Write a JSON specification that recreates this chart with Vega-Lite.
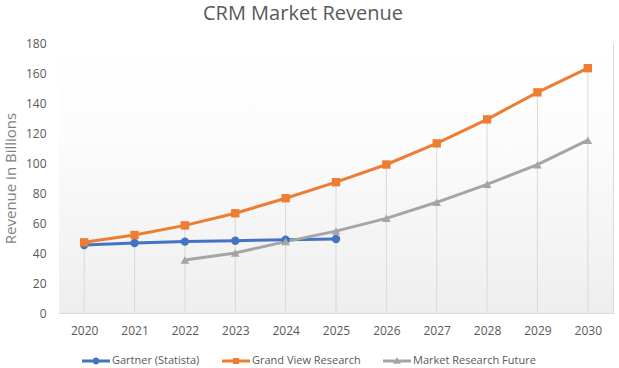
{
  "$schema": "https://vega.github.io/schema/vega-lite/v6.json",
  "width": 554,
  "height": 270,
  "autosize": "none",
  "padding": {"left": 59, "top": 43, "right": 6, "bottom": 55},
  "background": "#ffffff",
  "config": {
    "font": "Open Sans",
    "view": {"stroke": "#d9d9d9", "strokeWidth": 1},
    "axisY": {
      "title": "Revenue in Billions",
      "values": [0, 20, 40, 60, 80, 100, 120, 140, 160, 180],
      "grid": false,
      "ticks": false,
      "domain": false,
      "labelPadding": 13,
      "labelFontSize": 12,
      "labelColor": "#595959",
      "labelFont": "Open Sans",
      "titleFont": "Open Sans",
      "titleFontSize": 15,
      "titleFontWeight": "normal",
      "titleColor": "#7f7f7f",
      "titlePadding": 7
    }
  },
  "title": {
    "text": "CRM Market Revenue",
    "fontSize": 20,
    "fontWeight": "normal",
    "color": "#595959",
    "font": "Open Sans",
    "anchor": "middle",
    "dx": -33,
    "offset": 13
  },
  "datasets": {
    "rev": [
      {"year": "2020", "series": "Gartner (Statista)", "value": 45.3},
      {"year": "2021", "series": "Gartner (Statista)", "value": 46.7},
      {"year": "2022", "series": "Gartner (Statista)", "value": 47.6},
      {"year": "2023", "series": "Gartner (Statista)", "value": 48.2},
      {"year": "2024", "series": "Gartner (Statista)", "value": 48.9},
      {"year": "2025", "series": "Gartner (Statista)", "value": 49.3},
      {"year": "2020", "series": "Grand View Research", "value": 47.1},
      {"year": "2021", "series": "Grand View Research", "value": 52.0},
      {"year": "2022", "series": "Grand View Research", "value": 58.4},
      {"year": "2023", "series": "Grand View Research", "value": 66.5},
      {"year": "2024", "series": "Grand View Research", "value": 76.5},
      {"year": "2025", "series": "Grand View Research", "value": 87.2},
      {"year": "2026", "series": "Grand View Research", "value": 99.0},
      {"year": "2027", "series": "Grand View Research", "value": 113.1},
      {"year": "2028", "series": "Grand View Research", "value": 129.1},
      {"year": "2029", "series": "Grand View Research", "value": 147.1},
      {"year": "2030", "series": "Grand View Research", "value": 163.2},
      {"year": "2022", "series": "Market Research Future", "value": 35.3},
      {"year": "2023", "series": "Market Research Future", "value": 40.0},
      {"year": "2024", "series": "Market Research Future", "value": 47.6},
      {"year": "2025", "series": "Market Research Future", "value": 54.6},
      {"year": "2026", "series": "Market Research Future", "value": 63.1},
      {"year": "2027", "series": "Market Research Future", "value": 73.8},
      {"year": "2028", "series": "Market Research Future", "value": 85.8},
      {"year": "2029", "series": "Market Research Future", "value": 98.9},
      {"year": "2030", "series": "Market Research Future", "value": 115.2}
    ],
    "bg": [{"lo": 0, "hi": 180}]
  },
  "resolve": {"scale": {"y": "shared"}},
  "layer": [
    {
      "data": {"name": "bg"},
      "mark": {
        "type": "rect",
        "fill": {
          "gradient": "linear",
          "x1": 0, "y1": 0, "x2": 0, "y2": 1,
          "stops": [
            {"offset": 0, "color": "#ffffff"},
            {"offset": 0.35, "color": "#fcfcfc"},
            {"offset": 1, "color": "#eeeeee"}
          ]
        }
      },
      "encoding": {
        "y": {"field": "lo", "type": "quantitative", "scale": {"domain": [0, 180]}, "title": "Revenue in Billions"},
        "y2": {"field": "hi"}
      }
    },
    {
      "data": {"name": "rev"},
      "encoding": {
        "x": {
          "field": "year",
          "type": "ordinal",
          "scale": {"type": "point", "padding": 0.5},
          "axis": {
            "title": null,
            "labelAngle": 0,
            "ticks": false,
            "domain": true,
            "domainColor": "#d9d9d9",
            "labelPadding": 12,
            "labelFontSize": 12,
            "labelColor": "#595959",
            "labelFont": "Open Sans",
            "grid": false
          }
        },
        "y": {
          "field": "value",
          "type": "quantitative",
          "scale": {"domain": [0, 180]},
          "title": "Revenue in Billions"
        }
      },
      "layer": [
        {
          "mark": {"type": "rule", "color": "#d9d9d9", "strokeWidth": 1},
          "encoding": {
            "y": {"aggregate": "max", "field": "value", "type": "quantitative", "title": "Revenue in Billions"},
            "y2": {"datum": 0}
          }
        },
        {
          "mark": {"type": "line", "strokeWidth": 3},
          "encoding": {
            "color": {
              "field": "series",
              "type": "nominal",
              "scale": {
                "domain": ["Gartner (Statista)", "Grand View Research", "Market Research Future"],
                "range": ["#4472C4", "#ED7D31", "#A5A5A5"]
              },
              "legend": {
                "orient": "none",
                "direction": "horizontal",
                "legendX": 23,
                "legendY": 304,
                "title": null,
                "symbolSize": 784,
                "labelFont": "Open Sans",
                "labelFontSize": 11,
                "labelColor": "#595959",
                "labelOffset": 2,
                "columnPadding": 22,
                "encode": {
                  "symbols": {
                    "update": {
                      "shape": {"signal": "datum.value === 'Gartner (Statista)' ? 'M-1,-0.1H1V0.1H-1Z M-0.25,0A0.25,0.25 0 1,1 0.25,0A0.25,0.25 0 1,1 -0.25,0Z' : datum.value === 'Grand View Research' ? 'M-1,-0.1H1V0.1H-1Z M-0.22,-0.22H0.22V0.22H-0.22Z' : 'M-1,-0.1H1V0.1H-1Z M0,-0.28L0.28,0.2L-0.28,0.2Z'"},
                      "fill": {"signal": "scale('color', datum.value)"},
                      "fillOpacity": {"value": 1},
                      "strokeWidth": {"value": 0}
                    }
                  }
                }
              }
            }
          }
        },
        {
          "transform": [{"filter": "datum.series === 'Gartner (Statista)'"}],
          "mark": {"type": "point", "filled": true, "opacity": 1, "size": 70, "shape": "circle", "color": "#4472C4"}
        },
        {
          "transform": [{"filter": "datum.series === 'Grand View Research'"}],
          "mark": {"type": "point", "filled": true, "opacity": 1, "size": 70, "shape": "square", "color": "#ED7D31"}
        },
        {
          "transform": [{"filter": "datum.series === 'Market Research Future'"}],
          "mark": {"type": "point", "filled": true, "opacity": 1, "size": 75, "shape": "triangle-up", "color": "#A5A5A5"}
        }
      ]
    }
  ]
}
